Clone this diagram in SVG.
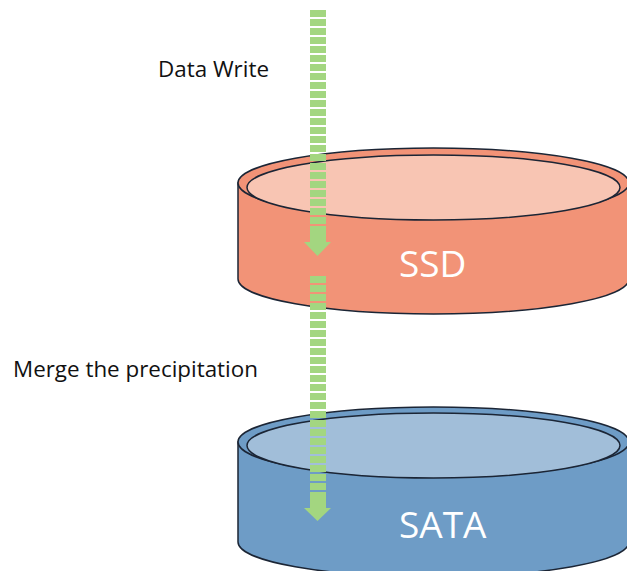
<svg xmlns="http://www.w3.org/2000/svg" width="627" height="571" viewBox="0 0 627 571">
<style>
.lbl{font-family:"Open Sans","Noto Sans",sans-serif;font-size:22.4px;fill:#111}
.name{font-family:"Open Sans","Noto Sans",sans-serif;font-size:37px;fill:#fff}
.edge{stroke:#1b2535;stroke-width:1.5}
.stripe{stroke:#a3d680;stroke-width:16;stroke-dasharray:7 2;fill:none}
.head{fill:#a3d680}
</style>
<rect width="627" height="571" fill="#fff"/>
<g id="ssd">
<path class="edge" d="M238,183 L238,279 A195.5,35 0 0 0 629,279 L629,183 Z" fill="#f29377"/>
<ellipse class="edge" cx="433.5" cy="183" rx="195.5" ry="35" fill="#f29377"/>
<ellipse class="edge" cx="433.5" cy="187.5" rx="186.5" ry="32.5" fill="#f8c5b3"/>
<text class="name" x="399" y="277">SSD</text>
</g>
<g id="sata">
<path class="edge" d="M238,442 L238,542 A195.5,35 0 0 0 629,542 L629,442 Z" fill="#6e9cc6"/>
<ellipse class="edge" cx="433.5" cy="442" rx="195.5" ry="35" fill="#6e9cc6"/>
<ellipse class="edge" cx="433.5" cy="445.5" rx="186.5" ry="32.5" fill="#a1bed9"/>
<text class="name" x="399" y="538">SATA</text>
</g>
<g id="label-write"><text class="lbl" x="158" y="77">Data Write</text></g>
<g id="label-merge"><text class="lbl" x="13" y="377">Merge the precipitation</text></g>
<g id="connectors">
<path class="stripe" d="M318,10 L318,226"/>
<rect class="head" x="310" y="226" width="16" height="17"/>
<polygon class="head" points="304,242 331,242 317.5,256"/>
<path class="stripe" d="M318,276 L318,492"/>
<rect class="head" x="310" y="492" width="16" height="17"/>
<polygon class="head" points="304,508 331,508 317.5,521"/>
</g>
</svg>
